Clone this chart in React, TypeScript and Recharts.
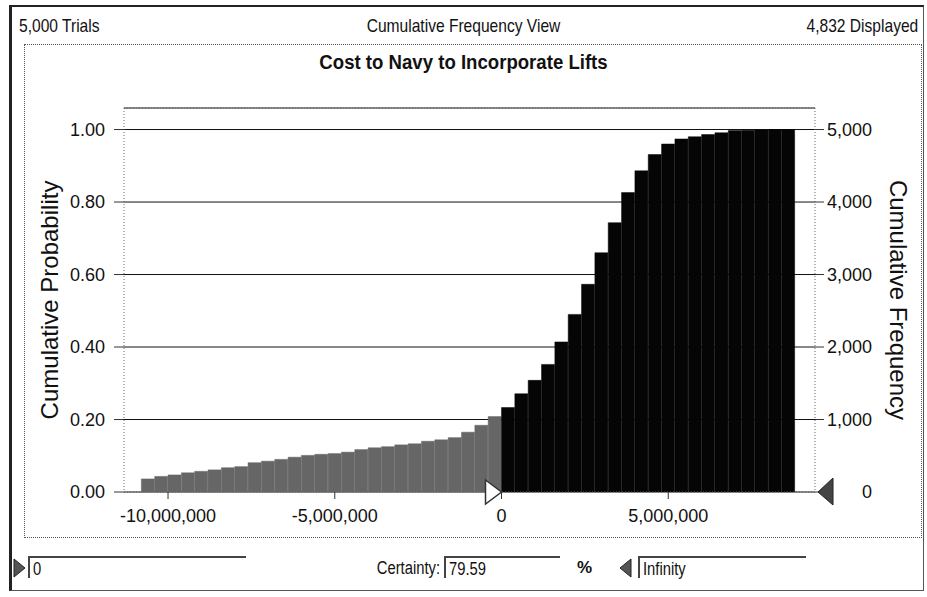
import React from "react";
import {
  ComposedChart,
  Bar,
  Cell,
  XAxis,
  YAxis,
  CartesianGrid,
  ReferenceLine,
  ReferenceDot,
} from "recharts";

// bin centres of the histogram, in millions of dollars
const binCentersM = [
  -10.6, -10.2, -9.8, -9.4, -9.0, -8.6, -8.2, -7.8, -7.4, -7.0, -6.6, -6.2, -5.8, -5.4,
  -5.0, -4.6, -4.2, -3.8, -3.4, -3.0, -2.6, -2.2, -1.8, -1.4, -1.0, -0.6, -0.2,
  0.2, 0.6, 1.0, 1.4, 1.8, 2.2, 2.6, 3.0, 3.4, 3.8, 4.2, 4.6, 5.0, 5.4, 5.8, 6.2, 6.6,
  7.0, 7.4, 7.8, 8.2, 8.6,
];

// cumulative probability
const cumProb = [
  0.036, 0.043, 0.047, 0.053, 0.057, 0.061, 0.067, 0.07, 0.081, 0.085, 0.09, 0.096, 0.101, 0.104,
  0.106, 0.11, 0.117, 0.122, 0.125, 0.13, 0.133, 0.14, 0.144, 0.15, 0.165, 0.184, 0.208,
  0.233, 0.271, 0.308, 0.352, 0.414, 0.49, 0.573, 0.66, 0.743, 0.826, 0.886, 0.931, 0.96, 0.974,
  0.98, 0.986, 0.991, 0.997, 0.998, 0.999, 1.0, 1.0,
];

const xTicks = [-10000000, -5000000, 0, 5000000];
const probTicks = [0, 0.2, 0.4, 0.6, 0.8, 1.0];
const freqTicks = [0, 1000, 2000, 3000, 4000, 5000];

const trials = 5000;
const displayed = 4832;
const lowerBound = 0; // certainty range start
const certainty = "79.59";

const X_MIN = -11320000;
const X_MAX = 9400000;
const P_MAX = 1.0594;

const data = binCentersM.map((m, i) => ({ x: m * 1000000, p: cumProb[i] }));

const FONT = "'Liberation Sans', Arial, sans-serif";

const fmtNum = (v: number) => v.toLocaleString("en-US");

// condensed look of the original dialog text
const narrow = (origin: string): React.CSSProperties => ({
  fontSize: 19,
  transform: "scaleX(0.82)",
  transformOrigin: origin,
  whiteSpace: "nowrap",
});

function LeftMarker(props: any) {
  const { cx, cy } = props;
  if (cx == null || cy == null) return null;
  return (
    <polygon
      points={`${cx - 16},${cy - 12} ${cx},${cy} ${cx - 16},${cy + 12}`}
      fill="#fff"
      stroke="#333"
      strokeWidth={1.5}
    />
  );
}

function RightMarker(props: any) {
  const { cx, cy } = props;
  if (cx == null || cy == null) return null;
  return (
    <polygon
      points={`${cx + 3},${cy} ${cx + 18},${cy - 14} ${cx + 18},${cy + 13}`}
      fill="#444"
      stroke="#222"
      strokeWidth={1}
    />
  );
}

function Field({ left, width, text }: { left: number; width: number; text: string }) {
  return (
    <div
      style={{
        position: "absolute",
        left,
        top: 556,
        width,
        height: 22,
        borderTop: "2px solid #444",
        borderLeft: "2px solid #444",
        boxSizing: "border-box",
        paddingLeft: 3,
      }}
    >
      <div style={{ ...narrow("left center"), lineHeight: "22px", fontSize: 18 }}>{text}</div>
    </div>
  );
}

export default function App() {
  return (
    <div
      style={{
        position: "absolute",
        left: 0,
        top: 0,
        width: 927,
        height: 597,
        background: "#fff",
        overflow: "hidden",
        fontFamily: FONT,
        color: "#111",
      }}
    >
      {/* outer frame */}
      <div
        style={{
          position: "absolute",
          left: 9,
          top: 5,
          width: 915,
          height: 586,
          borderTop: "2px solid #222",
          borderLeft: "3px solid #222",
          borderBottom: "1px solid #555",
          borderRight: "1px solid #555",
          boxSizing: "border-box",
        }}
      />
      {/* chart panel */}
      <div
        style={{
          position: "absolute",
          left: 24,
          top: 44,
          width: 898,
          height: 494,
          border: "1px dotted #555",
          boxSizing: "border-box",
        }}
      />
      <div style={{ position: "absolute", left: 19, top: 15, ...narrow("left center") }}>
        {fmtNum(trials)} Trials
      </div>
      <div
        style={{
          position: "absolute",
          left: 0,
          width: 927,
          top: 15,
          textAlign: "center",
          ...narrow("center center"),
        }}
      >
        Cumulative Frequency View
      </div>
      <div style={{ position: "absolute", right: 9, top: 15, ...narrow("right center") }}>
        {fmtNum(displayed)} Displayed
      </div>
      <div
        style={{
          position: "absolute",
          left: 0,
          width: 927,
          top: 51,
          textAlign: "center",
          fontWeight: "bold",
          fontSize: 20,
          transform: "scaleX(0.93)",
          transformOrigin: "center center",
        }}
      >
        Cost to Navy to Incorporate Lifts
      </div>

      <div style={{ position: "absolute", left: 0, top: 0 }}>
        <ComposedChart
          width={927}
          height={597}
          data={data}
          margin={{ top: 108, right: 12, bottom: 65, left: 12 }}
          barCategoryGap={0}
          barGap={0}
        >
          <CartesianGrid yAxisId="prob" vertical={false} stroke="#111" strokeWidth={1} />
          <XAxis
            dataKey="x"
            type="number"
            domain={[X_MIN, X_MAX]}
            allowDataOverflow
            ticks={xTicks}
            tickFormatter={fmtNum}
            tick={{ fill: "#111", fontSize: 18, fontFamily: FONT }}
            tickSize={7}
            tickMargin={10}
            height={40}
            axisLine={{ stroke: "#666", strokeDasharray: "1 2" }}
            tickLine={{ stroke: "#333" }}
          />
          <YAxis
            yAxisId="prob"
            orientation="left"
            type="number"
            domain={[0, P_MAX]}
            allowDataOverflow
            ticks={probTicks}
            tickFormatter={(v: number) => v.toFixed(2)}
            tick={{ fill: "#111", fontSize: 18, fontFamily: FONT }}
            tickSize={10}
            tickMargin={9}
            width={112}
            axisLine={{ stroke: "#666", strokeDasharray: "1 2" }}
            tickLine={{ stroke: "#333" }}
            label={{
              value: "Cumulative Probability",
              angle: -90,
              position: "insideLeft",
              offset: 37,
              style: { textAnchor: "middle", fontSize: 24, fill: "#111", fontFamily: FONT },
            }}
          />
          <YAxis
            yAxisId="freq"
            orientation="right"
            type="number"
            domain={[0, P_MAX * trials]}
            allowDataOverflow
            ticks={freqTicks}
            tickFormatter={fmtNum}
            tick={{ fill: "#111", fontSize: 18, fontFamily: FONT, textAnchor: "end" }}
            tickSize={9}
            tickMargin={48}
            width={100}
            axisLine={{ stroke: "#666", strokeDasharray: "1 2" }}
            tickLine={{ stroke: "#333" }}
            label={{
              value: "Cumulative Frequency",
              angle: 90,
              position: "insideRight",
              offset: 16,
              style: { textAnchor: "middle", fontSize: 24, fill: "#111", fontFamily: FONT },
            }}
          />
          <ReferenceLine yAxisId="prob" y={P_MAX} stroke="#666" strokeDasharray="1 2" />
          <Bar dataKey="p" yAxisId="prob" isAnimationActive={false}>
            {data.map((d, i) => (
              <Cell
                key={i}
                fill={d.x < lowerBound ? "#666" : "#050505"}
                stroke={d.x < lowerBound ? "#666" : "#050505"}
                strokeWidth={0.5}
              />
            ))}
          </Bar>
          <ReferenceDot
            yAxisId="prob"
            x={lowerBound}
            y={0}
            r={0}
            ifOverflow="visible"
            shape={LeftMarker}
          />
          <ReferenceDot
            yAxisId="prob"
            x={X_MAX}
            y={0}
            r={0}
            ifOverflow="visible"
            shape={RightMarker}
          />
        </ComposedChart>
      </div>

      {/* certainty controls */}
      <svg style={{ position: "absolute", left: 13, top: 558 }} width={14} height={20}>
        <polygon points="1,1 12,10 1,19" fill="#555" stroke="#222" />
      </svg>
      <Field left={28} width={218} text={String(lowerBound)} />
      <div
        style={{
          position: "absolute",
          left: 300,
          width: 140,
          top: 557,
          textAlign: "right",
          lineHeight: "22px",
          ...narrow("right center"),
          fontSize: 18,
        }}
      >
        Certainty:
      </div>
      <Field left={444} width={116} text={certainty} />
      <div
        style={{
          position: "absolute",
          left: 577,
          top: 557,
          fontSize: 17,
          fontWeight: "bold",
          lineHeight: "22px",
        }}
      >
        %
      </div>
      <svg style={{ position: "absolute", left: 619, top: 558 }} width={14} height={20}>
        <polygon points="12,1 1,10 12,19" fill="#555" stroke="#222" />
      </svg>
      <Field left={638} width={168} text="Infinity" />
    </div>
  );
}
